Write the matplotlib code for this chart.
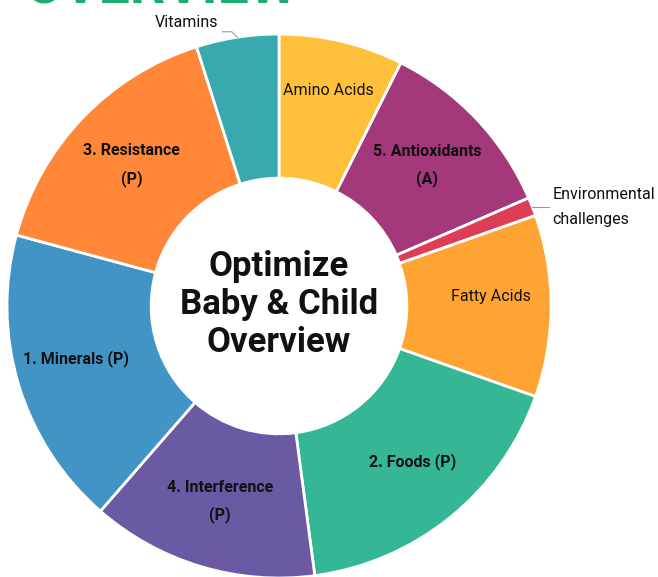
#!/usr/bin/env python3
"""
Donut chart: Optimize Baby & Child overview.
"""

import numpy as np
import matplotlib
matplotlib.use('Agg')
import matplotlib.pyplot as plt

plt.rcParams['font.family'] = ['Roboto', 'DejaVu Sans']

# Slices, clockwise from 12 o'clock
labels = ['Amino Acids', '5. Antioxidants\n(A)', 'Environmental\nchallenges', 'Fatty Acids',
          '2. Foods (P)', '4. Interference\n(P)', '1. Minerals (P)', '3. Resistance\n(P)', 'Vitamins']
values = [7.4, 11.1, 1.1, 10.8, 17.5, 13.5, 17.8, 15.9, 4.9]
colors = ['#ffc13b', '#a3387b', '#dd3e57', '#ffa433', '#35b796',
          '#6b59a3', '#4294c4', '#ff8737', '#38a9ae']
bold = [False, True, False, False, True, True, True, True, False]
outside = [False, False, True, False, False, False, False, False, True]

W, H = 658, 577
R = 272.0          # outer radius in px
cx, cy = 279, 306  # centre in px (from top-left)

fig = plt.figure(figsize=(W / 100, H / 100), dpi=100)
ax = fig.add_axes([0, 0, 1, 1])

wedges, _ = ax.pie(values, colors=colors, startangle=90, counterclock=False,
                   radius=1.0,
                   wedgeprops=dict(width=0.53, edgecolor='white', linewidth=2))

ax.set_aspect('auto')
ax.set_xlim(-cx / R, (W - cx) / R)
ax.set_ylim(-(H - cy) / R, cy / R)
ax.axis('off')

# Labels
total = sum(values)
cum = 0.0
for lab, v, b, out in zip(labels, values, bold, outside):
    mid = (cum + v / 2) / total * 2 * np.pi  # clockwise from top
    cum += v
    sx, sy = np.sin(mid), np.cos(mid)
    if not out:
        two_line = '\n' in lab
        r = 0.75 if two_line else 0.78
        dy = 0.0 if two_line else 0.035
        ax.text(r * sx, r * sy + dy, lab, ha='center', va='center', fontsize=11.5,
                fontweight='bold' if b else 'normal', color='#111111',
                linespacing=1.85)
    else:
        px, py = 1.0 * sx, 1.0 * sy
        if sx > 0:
            ex = px + 0.06
            ax.plot([px, ex], [py, py], color='#999999', lw=0.8)
            ax.text(ex + 0.015, py, lab, ha='left', va='center', fontsize=11.5,
                    color='#111111', linespacing=1.85)
        else:
            ex, ey = px - 0.055, py + 0.02
            ax.plot([px, px - 0.02, ex], [py, py + 0.02, ey], color='#999999', lw=0.8)
            ax.text(ex - 0.015, ey + 0.005, lab, ha='right', va='bottom', fontsize=11.5,
                    color='#111111')

# Centre title
ax.text(0, 0.005, 'Optimize\nBaby & Child\nOverview', ha='center', va='center',
        fontsize=25, fontweight='bold', color='#111111', linespacing=1.2)

# Cut-off header at the very top
fig.text(25 / W, 1 - 4 / H, 'OVERVIEW', ha='left', va='baseline', fontsize=40,
         fontweight='bold', color='#1aae6f')

plt.savefig('out.png', dpi=100)
print("Plot saved to out.png")
